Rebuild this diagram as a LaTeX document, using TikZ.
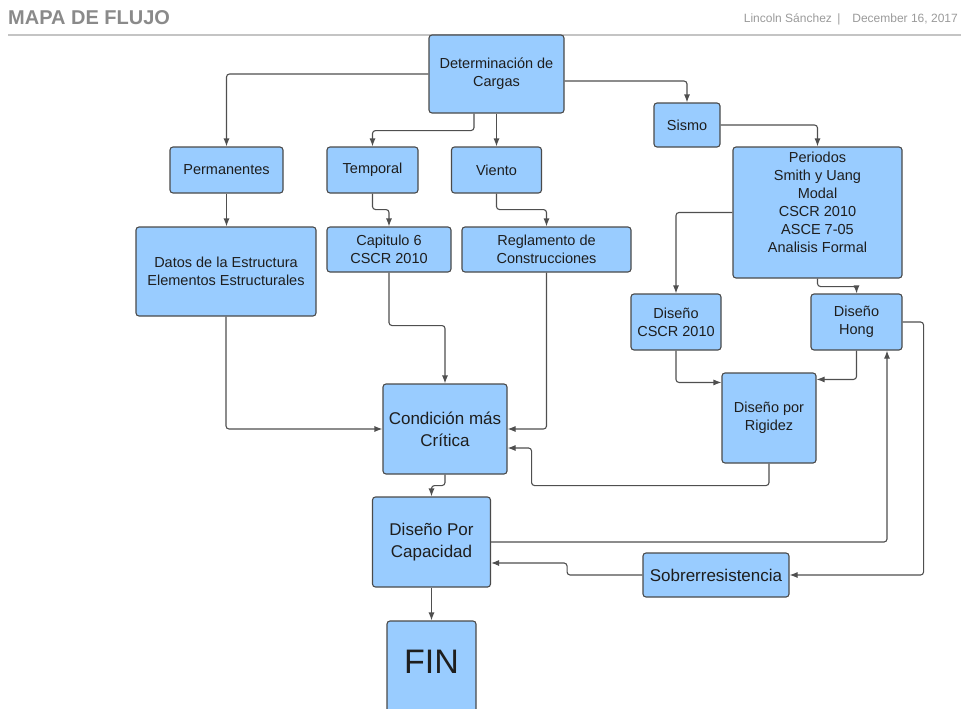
\documentclass[tikz,border=0pt]{standalone}
\usepackage{fontspec}
\setmainfont{Liberation Sans}
\usetikzlibrary{arrows.meta,calc}
\definecolor{boxfill}{HTML}{99CCFF}
\definecolor{boxline}{HTML}{4A4A4A}
\definecolor{wire}{HTML}{4F4F4F}
\definecolor{headgray}{HTML}{8A8A8A}
\definecolor{subgray}{HTML}{9A9A9A}
\definecolor{rulegray}{HTML}{C4C4C4}
\definecolor{ink}{HTML}{1E1E1E}
\tikzset{
  flowbox/.style={draw=boxline, fill=boxfill, line width=1.1pt, rounded corners=3pt,
    inner sep=0pt, align=center, text=ink, font=\fontsize{14.5}{18}\selectfont},
  bigtext/.style={font=\fontsize{17}{22}\selectfont},
  boxtext/.style={inner sep=0pt, align=center, text=ink, font=\fontsize{14.5}{18}\selectfont},
  conn/.style={draw=wire, line width=1.1pt, rounded corners=3pt,
    -{Latex[length=8pt,width=6pt]}},
}
\begin{document}
\begin{tikzpicture}[x=1pt,y=-1pt]
\useasboundingbox (0,0) rectangle (961,709);
\begin{scope}
\clip (0,0) rectangle (961,709);

% header
\node[anchor=base west, inner sep=0pt, text=headgray, font=\bfseries\fontsize{20}{23}\selectfont] (title) at (8,25) {MAPA DE FLUJO};
\node[anchor=base east, inner sep=0pt, text=subgray, font=\fontsize{12}{14}\selectfont] (author) at (958,23) {Lincoln Sánchez \,|\quad December 16, 2017};
\draw[rulegray, line width=2pt] (8,35) -- (961,35);

% boxes
\node[flowbox, minimum width=135pt, minimum height=78pt] (det) at (496.5,74) {Determinación de\\Cargas};
\node[flowbox, minimum width=66pt, minimum height=44pt] (sismo) at (687,125) {Sismo};
\node[flowbox, minimum width=113pt, minimum height=46pt] (perm) at (226.5,170) {Permanentes};
\node[flowbox, minimum width=91pt, minimum height=46pt] (temp) at (372.5,170) {Temporal};
\node[flowbox, minimum width=90pt, minimum height=46pt] (vien) at (496.5,170) {Viento};
\node[flowbox, minimum width=169pt, minimum height=131pt] (per) at (817.5,212.5) {};
\node[boxtext] (perT) at (817.5,202) {Periodos\\Smith y Uang\\Modal\\CSCR 2010\\ASCE 7-05\\Analisis Formal};
\node[flowbox, minimum width=180pt, minimum height=89pt] (datos) at (226,271.5) {Datos de la Estructura\\Elementos Estructurales};
\node[flowbox, minimum width=124pt, minimum height=45pt] (cap) at (389,249.5) {Capitulo 6\\CSCR 2010};
\node[flowbox, minimum width=169pt, minimum height=45pt] (regl) at (546.5,249.5) {Reglamento de\\Construcciones};
\node[flowbox, minimum width=90pt, minimum height=56pt] (dcscr) at (676,322) {Diseño\\CSCR 2010};
\node[flowbox, minimum width=91pt, minimum height=56pt] (hong) at (856.5,322) {Diseño\\Hong};
\node[flowbox, minimum width=94pt, minimum height=90pt] (rig) at (769,418) {Diseño por\\Rigidez};
\node[flowbox, bigtext, minimum width=124pt, minimum height=90pt] (cond) at (445,429) {Condición más\\Crítica};
\node[flowbox, bigtext, minimum width=118pt, minimum height=90pt] (cap2) at (431.5,542) {Diseño Por\\Capacidad};
\node[flowbox, bigtext, minimum width=146pt, minimum height=44pt] (sobre) at (716,575) {Sobrerresistencia};
\node[flowbox, minimum width=89pt, minimum height=118pt] (fin) at (431.5,680) {};
\node[boxtext, font=\fontsize{34}{40}\selectfont] (finT) at (431.5,662) {FIN};

% connectors
\draw[conn] (det.west) -| (perm.north);
\draw[conn] ($(det.south)+(-22.5,0)$) -- ++(0,17) -| (temp.north);
\draw[conn] (vien.north |- det.south) -- (vien.north);
\draw[conn] ($(det.east)+(0,7)$) -| (sismo.north);
\draw[conn] (sismo.east) -| (per.north);
\draw[conn] (perm.south) -- (perm.south |- datos.north);
\draw[conn] (temp.south) -- ++(0,16) -| (cap.north);
\draw[conn] (vien.south) -- ++(0,16) -| (regl.north);
\draw[conn] (per.west) -| (dcscr.north);
\draw[conn] (per.south) -- ++(0,8) -| (hong.north);
\draw[conn] (dcscr.south) |- ($(rig.north west)+(0,10)$);
\draw[conn] (hong.south) |- ($(rig.north east)+(0,7)$);
\draw[conn] (datos.south) |- (cond.west);
\draw[conn] (cap.south) -- ++(0,53) -| (cond.north);
\draw[conn] (regl.south) |- (cond.east);
\draw[conn] (rig.south) -- ++(0,22) -| ($(cond.east)+(24,19)$) -- ($(cond.east)+(0,19)$);
\draw[conn] (cond.south) -- ++(0,11) -| (cap2.north);
\draw[conn] (cap2.east) -| ($(hong.south)+(30.5,0)$);
\draw[conn] (hong.east) -- ++(21,0) |- (sobre.east);
\draw[conn] (sobre.west) -| ($(cap2.east)+(76,21)$) -- ($(cap2.east)+(0,21)$);
\draw[conn] (cap2.south) -- (fin.north);
\end{scope}
\end{tikzpicture}
\end{document}
